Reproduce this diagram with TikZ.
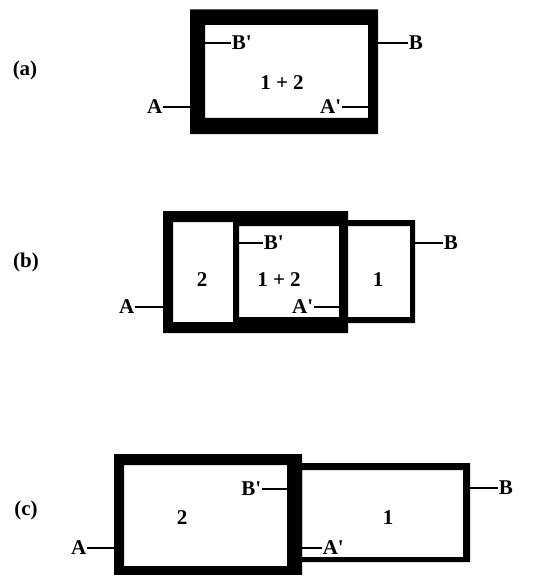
\documentclass[tikz,border=0pt]{standalone}
\usepackage{fontspec}
\setmainfont{Liberation Serif}
\begin{document}
\begin{tikzpicture}[x=1pt,y=-1pt,
  lbl/.style={font=\fontsize{21}{25}\selectfont\bfseries, inner sep=0.6pt},
  lead/.style={line width=1.3pt},
  ring/.style={fill=black, even odd rule}]
\useasboundingbox (0,0) rectangle (556,575);
\clip (0,0) rectangle (556,575);
% ---------------- (a)
\fill[ring] (190,9.5) rectangle (378,134) (205,25) rectangle (368,118);
\node[lbl] (pa) at (25,70) {(a)};
\node[lbl] (a12) at (282,83) {1 + 2};
\coordinate (aBi) at (205,43);
\node[lbl,anchor=west] (aBp) at (231,43) {B\textquotesingle};
\draw[lead] (aBi) -- (aBp.west);
\coordinate (aBo) at (378,43);
\node[lbl,anchor=west] (aB) at (408,43) {B};
\draw[lead] (aBo) -- (aB.west);
\coordinate (aAo) at (190,107);
\node[lbl,anchor=east] (aA) at (163,107) {A};
\draw[lead] (aA.east) -- (aAo);
\coordinate (aAi) at (368,107);
\node[lbl,anchor=east] (aAp) at (342,107) {A\textquotesingle};
\draw[lead] (aAp.east) -- (aAi);
% ---------------- (b)
\fill[ring] (163,211) rectangle (348,333) (173,222) rectangle (339,322);
\fill[ring] (233,220) rectangle (415,323) (239,226) rectangle (410,317);
\node[lbl] (pb) at (26,262) {(b)};
\node[lbl] (b2) at (202,280) {2};
\node[lbl] (b12) at (279,280) {1 + 2};
\node[lbl] (b1) at (378,280) {1};
\coordinate (bBi) at (239,243);
\node[lbl,anchor=west] (bBp) at (263,243) {B\textquotesingle};
\draw[lead] (bBi) -- (bBp.west);
\coordinate (bBo) at (415,243);
\node[lbl,anchor=west] (bB) at (443,243) {B};
\draw[lead] (bBo) -- (bB.west);
\coordinate (bAo) at (163,307);
\node[lbl,anchor=east] (bA) at (135,307) {A};
\draw[lead] (bA.east) -- (bAo);
\coordinate (bAi) at (339,307);
\node[lbl,anchor=east] (bAp) at (314,307) {A\textquotesingle};
\draw[lead] (bAp.east) -- (bAi);
% ---------------- (c)
\fill[ring] (114,454) rectangle (302,580) (124,465) rectangle (287,566);
\fill[ring] (287,463) rectangle (470,562) (302,470) rectangle (463,557);
\node[lbl] (pc) at (26,510) {(c)};
\node[lbl] (c2) at (182,518) {2};
\node[lbl] (c1) at (388,518) {1};
\coordinate (cBi) at (287,489);
\node[lbl,anchor=east] (cBp) at (262,489) {B\textquotesingle};
\draw[lead] (cBp.east) -- (cBi);
\coordinate (cBo) at (470,488);
\node[lbl,anchor=west] (cB) at (498,488) {B};
\draw[lead] (cBo) -- (cB.west);
\coordinate (cAo) at (114,548);
\node[lbl,anchor=east] (cA) at (87,548) {A};
\draw[lead] (cA.east) -- (cAo);
\coordinate (cAi) at (302,548);
\node[lbl,anchor=west] (cAp) at (322,548) {A\textquotesingle};
\draw[lead] (cAi) -- (cAp.west);
\end{tikzpicture}
\end{document}
